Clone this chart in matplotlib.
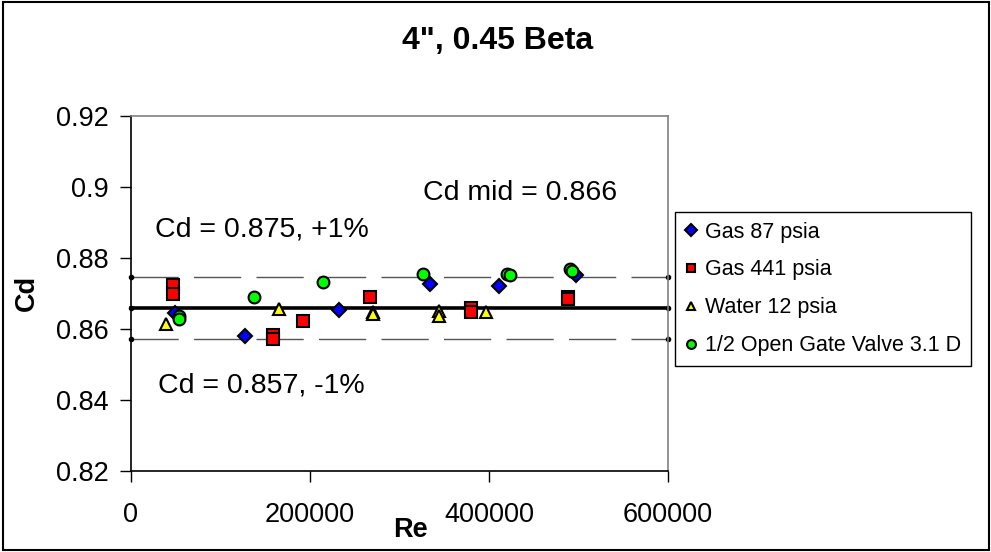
import matplotlib
matplotlib.use("Agg")
import matplotlib.pyplot as plt
from matplotlib.patches import Rectangle

plt.rcParams['font.family'] = ['Liberation Sans', 'DejaVu Sans']

# data
re_gas87 = [49200, 127400, 232700, 334100, 411500, 496900]
cd_gas87 = [0.8644, 0.8580, 0.8654, 0.8726, 0.8722, 0.8752]

re_gas441 = [47300, 47300, 158300, 158300, 191800, 267000, 379900, 379900, 488600, 488600]
cd_gas441 = [0.8724, 0.8698, 0.8583, 0.8572, 0.8623, 0.8691, 0.8660, 0.8649, 0.8690, 0.8684]

re_water = [39100, 165700, 270000, 270000, 344500, 344500, 396700]
cd_water = [0.8613, 0.8657, 0.8647, 0.8643, 0.8650, 0.8637, 0.8647]

re_gate = [54000, 54000, 137400, 214900, 325900, 419800, 423000, 490500, 493000]
cd_gate = [0.8637, 0.8628, 0.8689, 0.8733, 0.8754, 0.8754, 0.8753, 0.8769, 0.8762]

re_limits = [0, 600000]
cd_mid = 0.866
cd_hi = 0.8747
cd_lo = 0.8573

fig = plt.figure(figsize=(9.91, 5.52), dpi=100)
ax = fig.add_axes([131/991, 1 - 471/552, 537/991, 355/552])

# reference lines
ax.plot(re_limits, [cd_hi, cd_hi], color='#555555', lw=1, dashes=(34, 11), marker='o', ms=3,
        mfc='black', mec='black', clip_on=False, zorder=2)
ax.plot(re_limits, [cd_lo, cd_lo], color='#555555', lw=1, dashes=(34, 11), marker='o', ms=3,
        mfc='black', mec='black', clip_on=False, zorder=2)
ax.plot(re_limits, [cd_mid, cd_mid], color='black', lw=2.6, marker='o', ms=3,
        clip_on=False, zorder=2)

mk = dict(linestyle='none', ms=8.5, mec='black', mew=1.5, zorder=3)
ax.plot(re_gas87, cd_gas87, marker='D', mfc='#0000ff', label='Gas 87 psia', **dict(mk, ms=7.5))
ax.plot(re_gas441, cd_gas441, marker='s', mfc='#ff0000', label='Gas 441 psia', **mk)
ax.plot(re_water, cd_water, marker='^', mfc='#ffff00', label='Water 12 psia', **mk)
ax.plot(re_gate, cd_gate, marker='o', mfc='#00ff00', label='1/2 Open Gate Valve 3.1 D', **mk)

ax.set_xlim(0, 600000)
ax.set_ylim(0.82, 0.92)
ax.set_xticks([0, 200000, 400000, 600000])
ax.set_xticklabels(['0', '200000', '400000', '600000'])
ax.set_yticks([0.82, 0.84, 0.86, 0.88, 0.9, 0.92])
ax.set_yticklabels(['0.82', '0.84', '0.86', '0.88', '0.9', '0.92'])
ax.tick_params(axis='both', direction='out', length=8, width=1, labelsize=19.5)
ax.tick_params(axis='x', pad=14)
ax.tick_params(axis='y', pad=8)

ax.spines['left'].set_color('black')
ax.spines['bottom'].set_color('black')
ax.spines['top'].set_color('#808080')
ax.spines['right'].set_color('#808080')
for s in ax.spines.values():
    s.set_linewidth(1.2)

# annotations
ax.text(326300, 0.8983, 'Cd mid = 0.866', fontsize=20.5, va='center', ha='left')
ax.text(26800, 0.8879, 'Cd = 0.875, +1%', fontsize=20.5, va='center', ha='left')
ax.text(30000, 0.8442, 'Cd = 0.857, -1%', fontsize=20.5, va='center', ha='left')

fig.text(498/991, 1 - 41/552, '4", 0.45 Beta', fontsize=23, fontweight='bold', ha='center', va='center')
fig.text(27/991, 1 - 293/552, 'Cd', fontsize=19.5, fontweight='bold', rotation=90, ha='center', va='center')
fig.text(410/991, 1 - 530/552, 'Re', fontsize=19.5, fontweight='bold', ha='center', va='center')

leg = ax.legend(loc='upper left', bbox_to_anchor=(675/991, 1 - 212/552), bbox_transform=fig.transFigure,
                fontsize=15.5, markerscale=0.75, handlelength=0.6, handletextpad=0.35,
                labelspacing=0.78, borderpad=0.45, borderaxespad=0, fancybox=False, framealpha=1)
leg.get_frame().set_edgecolor('black')
leg.get_frame().set_linewidth(1)

# outer chart frame
fig.patches.append(Rectangle((3/991, 2/552), 986/991, 548/552, transform=fig.transFigure,
                             fill=False, edgecolor='black', lw=1.5))

fig.savefig('out.png', dpi=100)
